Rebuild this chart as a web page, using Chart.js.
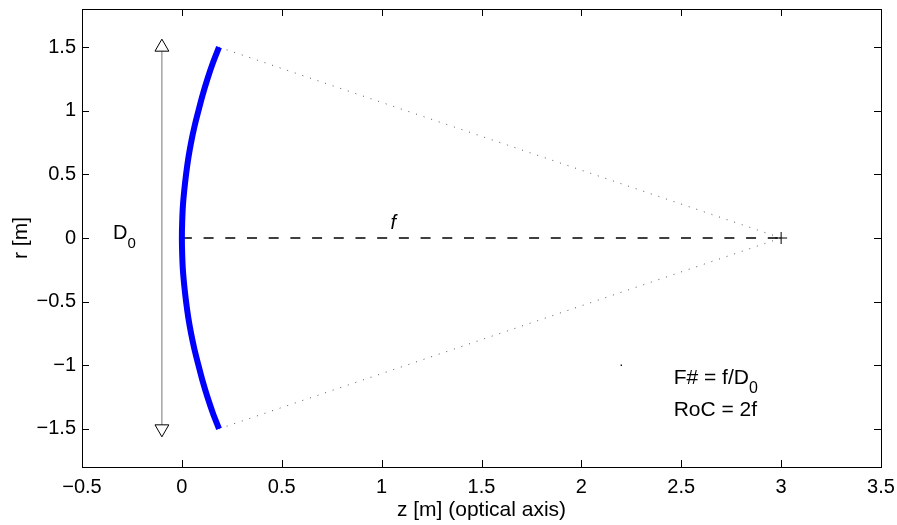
<!DOCTYPE html>
<html>
<head>
<meta charset="utf-8">
<script src="https://cdn.jsdelivr.net/npm/chart.js@4.4.1/dist/chart.umd.min.js"></script>
<style>
  html, body { margin: 0; padding: 0; background: #ffffff; }
  #wrap { width: 897px; height: 525px; position: relative; }
</style>
</head>
<body>
<div id="wrap"><canvas id="c" width="897" height="525"></canvas></div>
<script>
// ---- data ----
const xTicks = [-0.5, 0, 0.5, 1, 1.5, 2, 2.5, 3, 3.5];
const yTicks = [-1.5, -1, -0.5, 0, 0.5, 1, 1.5];

// mirror surface (z vs r)
const mirrorR = [-1.5, -1.375, -1.25, -1.125, -1.0, -0.875, -0.75, -0.625, -0.5, -0.375, -0.25, -0.125, 0,
                 0.125, 0.25, 0.375, 0.5, 0.625, 0.75, 0.875, 1.0, 1.125, 1.25, 1.375, 1.5];
const mirrorZ = [0.186, 0.155, 0.128, 0.104, 0.083, 0.063, 0.046, 0.032, 0.021, 0.012, 0.005, 0.0015, 0,
                 0.0015, 0.005, 0.012, 0.021, 0.032, 0.046, 0.063, 0.083, 0.104, 0.128, 0.155, 0.186];

// marginal rays from mirror edge to focus (dotted)
const rayZ = [0.186, 3.0];
const rayTopR = [1.5, 0];
const rayBotR = [-1.5, 0];

// optical axis, mirror vertex to focus (dashed)
const axisZ = [0, 3.0];
const axisR = [0, 0];

// focus marker
const focusZ = [3.0];
const focusR = [0];

// aperture arrow D0
const arrowZ = [-0.1, -0.1];
const arrowR = [-1.5, 1.5];

// stray dot
const dotZ = [2.2];
const dotR = [-1.0];

const pts = (xs, ys) => xs.map((x, i) => ({ x: x, y: ys[i] }));
const FONT = '"Liberation Sans", Arial, Helvetica, sans-serif';
const fmt = v => (v < 0 ? '\u2212' + String(Math.abs(v)) : String(v));

const frame = {
  id: 'frame',
  afterDatasetsDraw(chart) {
    const { ctx, chartArea: a, scales: { x, y } } = chart;
    ctx.save();
    ctx.strokeStyle = '#000';
    ctx.lineWidth = 1;
    const tl = 7;
    ctx.beginPath();
    xTicks.forEach(v => {
      const px = Math.round(x.getPixelForValue(v)) + 0.5;
      ctx.moveTo(px, a.bottom); ctx.lineTo(px, a.bottom - tl);
      ctx.moveTo(px, a.top); ctx.lineTo(px, a.top + tl);
    });
    yTicks.forEach(v => {
      const py = Math.round(y.getPixelForValue(v)) + 0.5;
      ctx.moveTo(a.left, py); ctx.lineTo(a.left + tl, py);
      ctx.moveTo(a.right, py); ctx.lineTo(a.right - tl, py);
    });
    ctx.stroke();
    ctx.strokeRect(Math.round(a.left) + 0.5, Math.round(a.top) + 0.5,
      Math.round(a.right - a.left), Math.round(a.bottom - a.top));

    // text annotations
    ctx.fillStyle = '#000';
    ctx.textBaseline = 'alphabetic';
    ctx.textAlign = 'left';
    // D0
    let px = x.getPixelForValue(-0.345), py = y.getPixelForValue(0);
    ctx.font = '20px ' + FONT;
    ctx.fillText('D', px, py + 1);
    let w = ctx.measureText('D').width;
    ctx.font = '15px ' + FONT;
    ctx.fillText('0', px + w, py + 10);
    // f
    px = x.getPixelForValue(1.045); py = y.getPixelForValue(0.07);
    ctx.font = 'italic 20px ' + FONT;
    ctx.fillText('f', px, py);
    // F# = f/D0
    px = x.getPixelForValue(2.462); py = y.getPixelForValue(-1.15);
    ctx.font = '21px ' + FONT;
    ctx.fillText('F# = f/D', px, py);
    w = ctx.measureText('F# = f/D').width;
    ctx.font = '16px ' + FONT;
    ctx.fillText('0', px + w, py + 9);
    // RoC = 2f
    py = y.getPixelForValue(-1.4);
    ctx.font = '21px ' + FONT;
    ctx.fillText('RoC = 2f', px, py);
    ctx.restore();
  }
};

const noPad = s => { s.paddingTop = 0; s.paddingBottom = 0; s.paddingLeft = 0; s.paddingRight = 0; };

new Chart(document.getElementById('c'), {
  type: 'scatter',
  data: {
    datasets: [
      { label: 'arrow heads top', data: pts([arrowZ[1]], [arrowR[1]]), showLine: false,
        pointStyle: 'triangle', rotation: 0, pointRadius: 8, pointBackgroundColor: '#fff',
        pointBorderColor: '#000', pointBorderWidth: 1, order: 0 },
      { label: 'arrow heads bottom', data: pts([arrowZ[0]], [arrowR[0]]), showLine: false,
        pointStyle: 'triangle', rotation: 180, pointRadius: 8, pointBackgroundColor: '#fff',
        pointBorderColor: '#000', pointBorderWidth: 1, order: 0 },
      { label: 'aperture', data: pts(arrowZ, arrowR), showLine: true, borderColor: '#777',
        borderWidth: 1, pointRadius: 0, order: 1 },
      { label: 'mirror', data: pts(mirrorZ, mirrorR), showLine: true, borderColor: '#0000ff',
        borderWidth: 6, pointRadius: 0, tension: 0.3, borderJoinStyle: 'round', order: 2 },
      { label: 'ray top', data: pts(rayZ, rayTopR), showLine: true, borderColor: '#555',
        borderWidth: 1, borderDash: [1, 7], pointRadius: 0, order: 3 },
      { label: 'ray bottom', data: pts(rayZ, rayBotR), showLine: true, borderColor: '#555',
        borderWidth: 1, borderDash: [1, 7], pointRadius: 0, order: 3 },
      { label: 'axis', data: pts(axisZ, axisR), showLine: true, borderColor: '#000',
        borderWidth: 1.3, borderDash: [10, 11.7], pointRadius: 0, order: 3 },
      { label: 'focus', data: pts(focusZ, focusR), showLine: false, pointStyle: 'cross',
        pointRadius: 6, pointBorderColor: '#000', pointBorderWidth: 1, order: 0 },
      { label: 'dot', data: pts(dotZ, dotR), showLine: false, pointStyle: 'rect',
        pointRadius: 1, pointBackgroundColor: '#000', pointBorderColor: '#000', pointBorderWidth: 0, order: 0 }
    ]
  },
  options: {
    responsive: false,
    animation: false,
    devicePixelRatio: 1,
    layout: { padding: { left: 0, right: 16, top: 8, bottom: 0 } },
    plugins: { legend: { display: false }, tooltip: { enabled: false } },
    scales: {
      x: {
        type: 'linear', min: -0.5, max: 3.5,
        grid: { display: false, drawTicks: false },
        border: { display: false },
        afterBuildTicks: s => { s.ticks = xTicks.map(v => ({ value: v })); },
        afterFit: s => { s.height = 58; noPad(s); },
        ticks: { color: '#000', font: { family: FONT, size: 20 }, padding: 8,
                 maxRotation: 0, autoSkip: false, callback: v => fmt(v) },
        title: { display: true, text: 'z [m] (optical axis)', color: '#000',
                 font: { family: FONT, size: 21 }, padding: { top: 0, bottom: 2 } }
      },
      y: {
        type: 'linear', min: -1.8, max: 1.8,
        grid: { display: false, drawTicks: false },
        border: { display: false },
        afterBuildTicks: s => { s.ticks = yTicks.map(v => ({ value: v })); },
        afterFit: s => { s.width = 82; noPad(s); },
        ticks: { color: '#000', font: { family: FONT, size: 20 }, padding: 6,
                 autoSkip: false, callback: v => fmt(v) },
        title: { display: true, text: 'r [m]', color: '#000',
                 font: { family: FONT, size: 21 }, padding: { top: 9, bottom: 0 } }
      }
    }
  },
  plugins: [frame]
});
</script>
</body>
</html>
